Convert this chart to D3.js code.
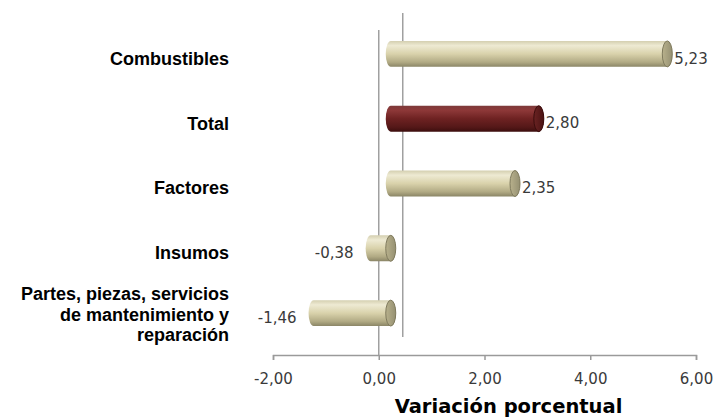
<!DOCTYPE html>
<html>
<head>
<meta charset="utf-8">
<script src="https://cdn.jsdelivr.net/npm/d3@7"></script>
<style>
	body { margin: 0; background: #fff; }
</style>
</head>
<body>
<svg id="chart" width="713" height="419"></svg>
<script>
// data (top to bottom)
const categories = ["Combustibles", "Total", "Factores", "Insumos", "Partes, piezas, servicios|de mantenimiento  y|reparación"];
const values = [5.23, 2.8, 2.35, -0.38, -1.46];
const highlighted = ["Total"];
const xTicks = [-2, 0, 2, 4, 6];
const xTitle = "Variación porcentual";

const svg = d3.select("#chart");
const depth = { dx: 24, dy: -17 }; // back wall offset of the 3d plot
const barShift = { dx: depth.dx / 2, dy: depth.dy / 2 };

const fmtLocale = d3.formatLocale({ decimal: ",", thousands: ".", grouping: [3], currency: ["", ""], minus: "-" });
const fmt = fmtLocale.format(".2f");

const xScale = d3.scaleLinear().domain([-2, 6]).range([273, 696]);
const yScale = d3.scaleBand().domain(categories).range([30, 354]);

// gradients for the cylinders
const defs = svg.append("defs");
function bodyGradient(id, stops) {
	const g = defs.append("linearGradient").attr("id", id).attr("x1", 0).attr("y1", 0).attr("x2", 0).attr("y2", 1);
	stops.forEach((s) => g.append("stop").attr("offset", s[0]).attr("stop-color", s[1]));
}
function capGradient(id, c1, c2) {
	const g = defs.append("linearGradient").attr("id", id).attr("x1", 0).attr("y1", 0).attr("x2", 1).attr("y2", 0);
	g.append("stop").attr("offset", 0).attr("stop-color", c1);
	g.append("stop").attr("offset", 1).attr("stop-color", c2);
}
bodyGradient("tanBody", [[0, "#d4cfb0"], [0.18, "#eeead3"], [0.5, "#d9d2ab"], [0.82, "#b1aa84"], [1, "#8a8566"]]);
bodyGradient("redBody", [[0, "#7d3a3a"], [0.18, "#8d3838"], [0.5, "#6e2222"], [0.82, "#551818"], [1, "#3d0e0e"]]);
capGradient("tanCap", "#b8b18c", "#959072");
capGradient("redCap", "#6a2323", "#4a1212");

// back zero line
svg.append("line")
	.attr("x1", xScale(0) + depth.dx).attr("x2", xScale(0) + depth.dx)
	.attr("y1", yScale.range()[0] + depth.dy).attr("y2", yScale.range()[1] + depth.dy)
	.attr("stroke", "#a0a0a0").attr("stroke-width", 1.5);

// front zero line
svg.append("line")
	.attr("x1", xScale(0)).attr("x2", xScale(0))
	.attr("y1", yScale.range()[0]).attr("y2", yScale.range()[1] + 1)
	.attr("stroke", "#a0a0a0").attr("stroke-width", 1.5);

// x axis
const axis = svg.append("g")
	.attr("transform", "translate(0, 355)")
	.call(d3.axisBottom(xScale).tickValues(xTicks).tickFormat(fmt).tickSize(5).tickSizeOuter(5).tickPadding(13));
axis.selectAll("path, line").attr("stroke", "#9a9a9a").attr("stroke-width", 1.5);
axis.selectAll("text").attr("fill", "#3a3a3a").style("font", "15px 'DejaVu Sans'");

svg.append("text")
	.attr("x", (xScale.range()[0] + xScale.range()[1]) / 2 + 24)
	.attr("y", 413)
	.attr("text-anchor", "middle")
	.style("font", "bold 19.5px 'DejaVu Sans'")
	.attr("fill", "#000")
	.text(xTitle);

// bars as cylinders
const rx = 5;
const barH = yScale.bandwidth() * 0.4;
const rows = categories.map((c, i) => ({ cat: c, value: values[i] }));
const cy = (d) => yScale(d.cat) + yScale.bandwidth() / 2 + barShift.dy;

const bars = svg.selectAll(".bar").data(rows).enter().append("g").classed("bar", true);

bars.append("path")
	.attr("fill", (d) => (highlighted.includes(d.cat) ? "url(#redBody)" : "url(#tanBody)"))
	.attr("d", (d) => {
		const xl = xScale(Math.min(0, d.value)) + barShift.dx;
		const xr = xScale(Math.max(0, d.value)) + barShift.dx;
		const ry = barH / 2;
		const y = cy(d);
		return `M${xl},${y - ry}L${xr},${y - ry}A${rx},${ry} 0 0 1 ${xr},${y + ry}L${xl},${y + ry}A${rx},${ry} 0 0 1 ${xl},${y - ry}Z`;
	});

bars.append("ellipse")
	.attr("cx", (d) => xScale(Math.max(0, d.value)) + barShift.dx)
	.attr("cy", cy)
	.attr("rx", rx)
	.attr("ry", barH / 2)
	.attr("fill", (d) => (highlighted.includes(d.cat) ? "url(#redCap)" : "url(#tanCap)"))
	.attr("stroke", (d) => (highlighted.includes(d.cat) ? "#3a0c0c" : "#7f7a5d"))
	.attr("stroke-width", 1);

// value labels
bars.append("text")
	.attr("x", (d) => (d.value >= 0 ? xScale(d.value) + barShift.dx + rx + 2 : xScale(d.value) + barShift.dx - rx - 12))
	.attr("y", (d) => cy(d) + 4.5)
	.attr("dy", "0.35em")
	.attr("text-anchor", (d) => (d.value >= 0 ? "start" : "end"))
	.attr("fill", "#3a3a3a")
	.style("font", "15px 'DejaVu Sans'")
	.text((d) => fmt(d.value));

// category labels
const labels = svg.selectAll(".cat").data(rows).enter().append("text")
	.classed("cat", true)
	.attr("text-anchor", "end")
	.attr("fill", "#000")
	.style("font", "bold 18px 'Liberation Sans', Arial, sans-serif");

labels.each(function (d) {
	const lines = d.cat.split("|");
	const base = cy(d) + 4.5;
	lines.forEach((t, i) => {
		d3.select(this).append("tspan")
			.attr("x", 229)
			.attr("y", base + (i - (lines.length - 1) / 2) * 20.5 - (lines.length > 1 ? 3 : 0))
			.attr("dy", "0.35em")
			.text(t);
	});
});
</script>
</body>
</html>
